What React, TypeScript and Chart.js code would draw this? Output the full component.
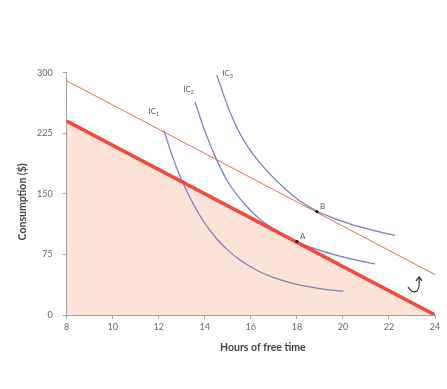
import React, { useEffect, useRef } from 'react';
import { Chart, registerables } from 'chart.js';

Chart.register(...registerables);

// Axis ticks
const hourTicks = [8, 10, 12, 14, 16, 18, 20, 22, 24];
const consumptionTicks = [0, 75, 150, 225, 300];

// Budget constraints (hours of free time -> consumption)
const budgetHours = [8, 24];
const budgetOriginal = [240, 0];
const budgetNew = [290, 50];

// Indifference curves
const ic1Hours = [12.23, 12.6, 13.0, 13.5, 14.0, 14.5, 15.0, 15.5, 16.0, 16.5, 17.0, 17.5, 18.0, 18.5, 19.0, 19.5, 20.02];
const ic1Cons = [228, 195.8, 166.6, 137.5, 113.6, 95, 80.3, 68.6, 59.4, 52, 46.2, 41.6, 37.9, 35, 32.7, 30.9, 29.4];
const ic2Hours = [13.57, 14.0, 14.5, 15.0, 15.5, 16.0, 16.5, 17.0, 17.5, 18.0, 18.5, 19.0, 19.5, 20.0, 20.5, 21.0, 21.39];
const ic2Cons = [264, 228, 193, 165, 145, 129, 116, 106.5, 98, 91, 85, 80, 75.8, 72, 68.5, 65.5, 63.3];
const ic3Hours = [14.52, 15.0, 15.5, 16.0, 16.5, 17.0, 17.5, 18.0, 18.5, 18.87, 19.5, 20.0, 20.5, 21.0, 21.5, 22.26];
const ic3Cons = [297, 258, 226, 203, 185, 169.5, 156, 144, 134.5, 128.5, 121, 115.9, 111.1, 107.2, 103.5, 98.5];

// Curve labels
const icLabels = ['1', '2', '3'];
const icLabelHours = [11.77, 13.28, 14.98];
const icLabelCons = [252, 280, 300];

// Choice points
const pointNames = ['A', 'B'];
const pointHours = [18, 18.87];
const pointCons = [91, 128];

// Hand-drawn arrow anchor
const arrowAnchor = [23.22, 36];

const xTitle = 'Hours of free time';
const yTitle = 'Consumption ($)';

const toXY = (xs: number[], ys: number[]) => xs.map((v, i) => ({ x: v, y: ys[i] }));

const CURVE = '#7a7fbf';
const TEXT = '#555';

const annotationPlugin = {
  id: 'annotations',
  afterDatasetsDraw(chart: any) {
    const { ctx, chartArea } = chart;
    const x = chart.scales.x;
    const y = chart.scales.y;
    ctx.save();
    // IC labels
    ctx.fillStyle = TEXT;
    ctx.textBaseline = 'alphabetic';
    icLabels.forEach((sub, i) => {
      const px = x.getPixelForValue(icLabelHours[i]);
      const py = y.getPixelForValue(icLabelCons[i]);
      ctx.font = '8px Lato';
      ctx.textAlign = 'left';
      const w = ctx.measureText('IC').width;
      ctx.fillText('IC', px - 5, py + 3);
      ctx.font = '5px Lato';
      ctx.fillText(sub, px - 5 + w, py + 5);
    });
    // Point labels
    ctx.font = '8px Lato';
    ctx.textAlign = 'left';
    pointNames.forEach((n, i) => {
      const px = x.getPixelForValue(pointHours[i]);
      const py = y.getPixelForValue(pointCons[i]);
      ctx.fillText(n, px + 3, py - 3);
    });
    // Hand-drawn arrow
    const ax = x.getPixelForValue(arrowAnchor[0]);
    const ay = y.getPixelForValue(arrowAnchor[1]);
    ctx.strokeStyle = '#222';
    ctx.lineWidth = 1.1;
    ctx.beginPath();
    ctx.moveTo(ax - 9, ay + 1);
    ctx.quadraticCurveTo(ax - 5, ay + 8, ax, ay + 5);
    ctx.quadraticCurveTo(ax + 3, ay + 2, ax + 2, ay - 9);
    ctx.stroke();
    ctx.beginPath();
    ctx.moveTo(ax - 1, ay - 5);
    ctx.lineTo(ax + 2, ay - 9);
    ctx.lineTo(ax + 5, ay - 5);
    ctx.stroke();
    // Axis titles
    ctx.fillStyle = '#444';
    ctx.font = 'bold 10.5px Lato';
    ctx.textAlign = 'center';
    ctx.textBaseline = 'middle';
    ctx.fillText(xTitle, (chartArea.left + chartArea.right) / 2 + 12, chartArea.bottom + 33);
    ctx.translate(chartArea.left - 44, (chartArea.top + chartArea.bottom) / 2 + 8);
    ctx.rotate(-Math.PI / 2);
    ctx.fillText(yTitle, 0, 0);
    ctx.restore();
  },
};

export default function App() {
  const ref = useRef<HTMLCanvasElement>(null);
  useEffect(() => {
    if (!ref.current) return;
    const curve = (xs: number[], ys: number[]) => ({
      data: toXY(xs, ys),
      borderColor: CURVE,
      borderWidth: 1.3,
      pointRadius: 0,
      cubicInterpolationMode: 'monotone' as const,
      fill: false,
    });
    const chart = new Chart(ref.current, {
      type: 'line',
      data: {
        datasets: [
          {
            data: pointHours.map((h, i) => ({ x: h, y: pointCons[i] })),
            showLine: false,
            pointRadius: 1.6,
            pointBackgroundColor: '#111',
            pointBorderWidth: 0,
            borderColor: '#111',
          },
          {
            data: toXY(budgetHours, budgetOriginal),
            borderColor: '#f5473a',
            borderWidth: 3.5,
            pointRadius: 0,
            fill: 'origin',
            backgroundColor: '#fde3d7',
          },
          {
            data: toXY(budgetHours, budgetNew),
            borderColor: '#f2664f',
            borderWidth: 1,
            pointRadius: 0,
            fill: false,
          },
          curve(ic1Hours, ic1Cons),
          curve(ic2Hours, ic2Cons),
          curve(ic3Hours, ic3Cons),
        ] as any,
      },
      options: {
        animation: false,
        responsive: false,
        layout: { padding: { top: 72.7, right: 12, left: 0, bottom: 0 } },
        plugins: {
          legend: { display: false },
          tooltip: { enabled: false },
          filler: { drawTime: 'beforeDatasetsDraw' },
        } as any,
        scales: {
          x: {
            type: 'linear',
            min: 8,
            max: 24,
            afterBuildTicks: (s: any) => {
              s.ticks = hourTicks.map((v) => ({ value: v }));
            },
            afterFit: (s: any) => {
              s.height = 74;
            },
            ticks: { color: '#666', font: { family: 'Lato', size: 9 }, padding: 3, maxRotation: 0 },
            grid: { display: true, drawOnChartArea: false, tickLength: 4, color: '#a8a8a8' },
            border: { color: '#a0a0a0', width: 1 },
          },
          y: {
            type: 'linear',
            min: 0,
            max: 300,
            afterBuildTicks: (s: any) => {
              s.ticks = consumptionTicks.map((v) => ({ value: v }));
            },
            afterFit: (s: any) => {
              s.width = 66.7;
            },
            ticks: { color: '#666', font: { family: 'Lato', size: 9 }, padding: 10 },
            grid: { display: true, drawOnChartArea: false, tickLength: 4, color: '#a8a8a8' },
            border: { color: '#a0a0a0', width: 1 },
          },
        },
      },
      plugins: [annotationPlugin],
    });
    return () => chart.destroy();
  }, []);
  return (
    <div style={{ position: 'fixed', left: 0, top: 0, width: 447, height: 389, background: '#fff' }}>
      <canvas ref={ref} width={447} height={389} />
    </div>
  );
}
